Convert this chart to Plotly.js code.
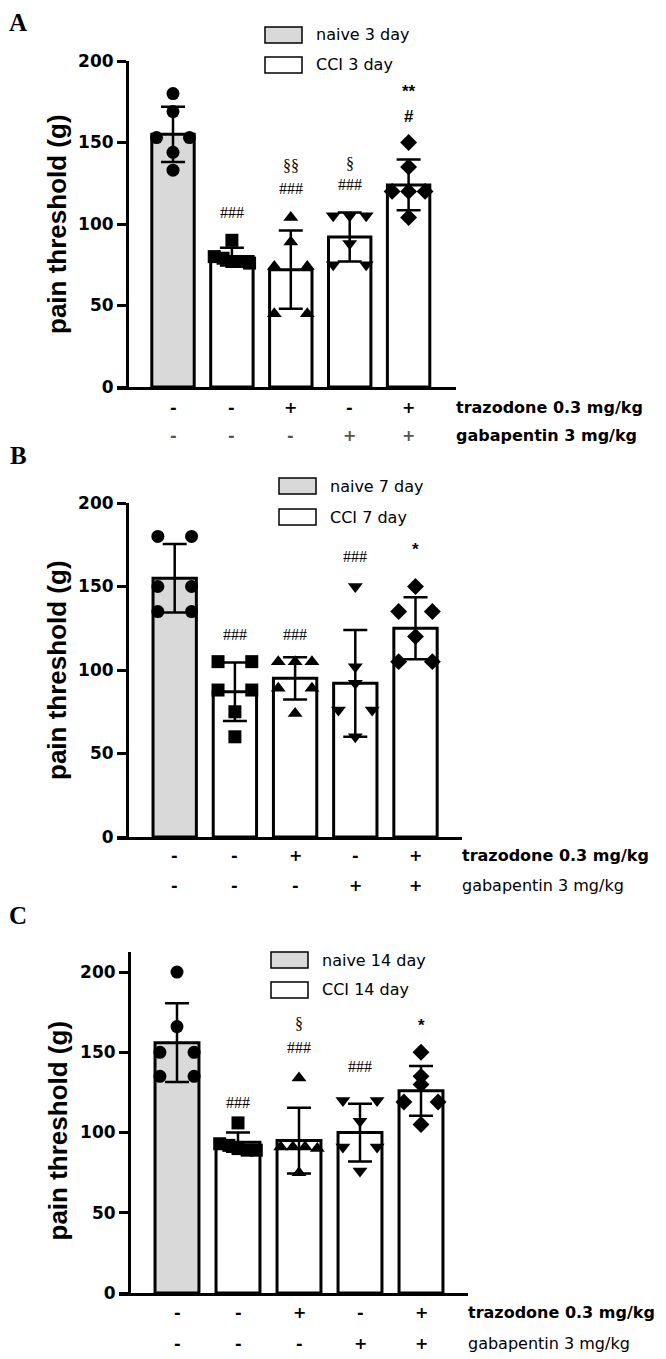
<!DOCTYPE html>
<html><head><meta charset="utf-8">
<script src="https://cdn.plot.ly/plotly-3.0.1.min.js"></script>
<style>html,body{margin:0;padding:0;background:#fff}#chart{width:666px;height:1359px}</style>
</head><body><div id="chart"></div>
<script>
// ---------------- data ----------------
const groups = ['naive', 'CCI', 'CCI + trazodone', 'CCI + gabapentin', 'CCI + trazodone + gabapentin'];
const trazodoneRow = ['-', '-', '+', '-', '+'];
const gabapentinRow = ['-', '-', '-', '+', '+'];
const rowLabels = ['trazodone 0.3 mg/kg', 'gabapentin 3 mg/kg'];
const yTicks = [0, 50, 100, 150, 200];
const panelLetters = ['A', 'B', 'C'];
const yTitle = 'pain threshold (g)';

const legendA = ['naive 3 day', 'CCI 3 day'];
const legendB = ['naive 7 day', 'CCI 7 day'];
const legendC = ['naive 14 day', 'CCI 14 day'];

const meansA = [155, 80, 72, 92, 124];
const sdA = [17, 5.5, 24, 15, 15.5];
const pointsA = [
  [180, 169, 153, 153, 144, 133],
  [90, 80, 79, 77, 77, 76],
  [104, 89, 74, 74, 45, 45],
  [105, 105, 105, 88, 75, 75],
  [150, 135, 120, 120, 120, 104]
];
const sigTextA = ['###', '###', '§§', '###', '§', '#', '**'];
const sigBarA = [1, 2, 2, 3, 3, 4, 4];
const sigYA = [107, 122, 136, 124, 137, 166, 181];

const meansB = [155, 87, 95, 92, 125];
const sdB = [20.5, 17.5, 12.6, 32, 18.5];
const pointsB = [
  [180, 180, 150, 150, 135, 135],
  [105, 105, 88, 88, 75, 60],
  [105, 105, 105, 89, 89, 74],
  [150, 102, 92, 76, 76, 60],
  [150, 135, 135, 120, 105, 105]
];
const sigTextB = ['###', '###', '###', '*'];
const sigBarB = [1, 2, 3, 4];
const sigYB = [121, 121, 168, 172];

const meansC = [156, 94, 95, 100, 126];
const sdC = [24.5, 6, 20.5, 18, 15.5];
const pointsC = [
  [200, 166, 150, 150, 135, 135],
  [106, 93, 92, 90, 89, 89],
  [134, 91, 91, 91, 90, 75],
  [120, 120, 107, 91, 91, 76],
  [150, 135, 130, 119, 119, 105]
];
const sigTextC = ['###', '###', '§', '###', '*'];
const sigBarC = [1, 2, 2, 3, 4];
const sigYC = [119, 153, 168, 141, 167];

// ---------------- layout geometry (pixels) ----------------
const W = 666, H = 1359;
const px = v => v / W;
const py = v => 1 - v / H;
const SANS = 'DejaVu Sans, Liberation Sans, Arial, sans-serif';
const SANS2 = 'Liberation Sans, Arial, sans-serif';
const SERIF = 'Liberation Serif, Times New Roman, serif';

const panels = [
  {means: meansA, sd: sdA, pts: pointsA, sigT: sigTextA, sigB: sigBarA, sigY: sigYA, legend: legendA,
   xL: 117, xR: 456, yAxisX: 127, c0: 173, sp: 58.9, yTop: 61, yBot: 387, yMax: 200,
   row1: 407, row2: 435, legBox: 265, legText: 314, leg1: 35, leg2: 65, letterY: 22, row2Color: '#555'},
  {means: meansB, sd: sdB, pts: pointsB, sigT: sigTextB, sigB: sigBarB, sigY: sigYB, legend: legendB,
   xL: 117, xR: 462, yAxisX: 127, c0: 174.7, sp: 60.2, yTop: 503, yBot: 837, yMax: 200,
   row1: 855, row2: 885, legBox: 279, legText: 328, leg1: 486, leg2: 517, letterY: 455, row2Color: '#000'},
  {means: meansC, sd: sdC, pts: pointsC, sigT: sigTextC, sigB: sigBarC, sigY: sigYC, legend: legendC,
   xL: 119, xR: 468, yAxisX: 129, c0: 177, sp: 61, yTop: 952, yBot: 1293, yMax: 212.5,
   row1: 1312, row2: 1343, legBox: 271, legText: 320, leg1: 960, leg2: 990, letterY: 915, row2Color: '#000'}
];

const symbols = ['circle', 'square', 'triangle-up', 'triangle-down', 'diamond'];
const fills = ['#d9d9d9', '#ffffff', '#ffffff', '#ffffff', '#ffffff'];

// spread points of similar value horizontally (scatter-dot style)
function spread(values) {
  const sorted = values.slice().sort((a, b) => b - a);
  const out = [];
  let i = 0;
  while (i < sorted.length) {
    let j = i;
    while (j + 1 < sorted.length && sorted[i] - sorted[j + 1] <= 4.5) j++;
    const n = j - i + 1;
    let offs;
    if (n === 1) offs = [0];
    else if (n === 2) offs = [-0.28, 0.28];
    else if (n === 3) offs = [-0.28, 0, 0.28];
    else offs = Array.from({length: n}, (_, k) => -0.3 + 0.6 * k / (n - 1));
    for (let k = 0; k < n; k++) out.push({y: sorted[i + k], dx: offs[k]});
    i = j + 1;
  }
  return out;
}

const data = [];
const layout = {
  width: W, height: H, margin: {l: 0, r: 0, t: 0, b: 0},
  paper_bgcolor: '#fff', plot_bgcolor: 'rgba(0,0,0,0)',
  showlegend: false, annotations: [], shapes: [], bargap: 0
};

panels.forEach((p, k) => {
  const s = k === 0 ? '' : String(k + 1);
  const xa = 'x' + s, ya = 'y' + s;
  const xIdx = groups.map((_, i) => i);
  const rLeft = (p.xL - p.c0) / p.sp;
  const rRight = (p.xR - p.c0) / p.sp;

  data.push({
    type: 'bar', x: xIdx, y: p.means, xaxis: xa, yaxis: ya, width: 0.72,
    marker: {color: fills, line: {color: '#000', width: 3}},
    error_y: {type: 'data', array: p.sd, visible: true, color: '#000', thickness: 2.5, width: 12},
    hoverinfo: 'skip'
  });

  p.pts.forEach((vals, i) => {
    const sp = spread(vals);
    data.push({
      type: 'scatter', mode: 'markers', xaxis: xa, yaxis: ya, cliponaxis: false,
      x: sp.map(o => i + o.dx), y: sp.map(o => o.y),
      marker: {symbol: symbols[i], size: 13, color: '#000', line: {width: 0}},
      hoverinfo: 'skip'
    });
  });

  layout['xaxis' + s] = {
    domain: [px(p.xL), px(p.xR)], range: [rLeft, rRight], anchor: ya,
    showgrid: false, zeroline: false, showline: true, linewidth: 3, linecolor: '#000',
    ticks: '', showticklabels: false, fixedrange: true
  };
  layout['yaxis' + s] = {
    domain: [py(p.yBot), py(p.yTop)], range: [0, p.yMax], anchor: 'free', position: px(p.yAxisX),
    showgrid: false, zeroline: false, showline: true, linewidth: 3, linecolor: '#000',
    ticks: 'outside', ticklen: 9, tickwidth: 3, tickcolor: '#000', tickvals: yTicks,
    tickfont: {family: SANS, size: 17, color: '#000', weight: 'bold'}, fixedrange: true
  };

  // y title
  layout.annotations.push({
    xref: 'paper', yref: 'paper', x: px(57), y: py((p.yTop + p.yBot) / 2 + (k === 2 ? 8 : 0)),
    text: yTitle, textangle: -90, showarrow: false, xanchor: 'center', yanchor: 'middle',
    font: {family: SANS2, size: 26, color: '#000', weight: 'bold'}
  });
  // panel letter
  layout.annotations.push({
    xref: 'paper', yref: 'paper', x: px(18), y: py(p.letterY), text: panelLetters[k],
    showarrow: false, xanchor: 'center', yanchor: 'middle',
    font: {family: SERIF, size: 25, color: '#000', weight: 'bold'}
  });
  // +/- rows
  groups.forEach((g, i) => {
    layout.annotations.push({
      xref: xa, yref: 'paper', x: i, y: py(p.row1), text: trazodoneRow[i], showarrow: false,
      xanchor: 'center', yanchor: 'middle', font: {family: SANS, size: 16, color: '#000', weight: 'bold'}
    });
    layout.annotations.push({
      xref: xa, yref: 'paper', x: i, y: py(p.row2), text: gabapentinRow[i], showarrow: false,
      xanchor: 'center', yanchor: 'middle', font: {family: SANS, size: 16, color: p.row2Color, weight: 'bold'}
    });
  });
  layout.annotations.push({
    xref: 'paper', yref: 'paper', x: px(p.xR - 2), y: py(p.row1), text: rowLabels[0], showarrow: false,
    xanchor: 'left', yanchor: 'middle', font: {family: SANS, size: 16, color: '#000', weight: 'bold'}
  });
  layout.annotations.push({
    xref: 'paper', yref: 'paper', x: px(p.xR - 2), y: py(p.row2), text: rowLabels[1], showarrow: false,
    xanchor: 'left', yanchor: 'middle', font: {family: SANS, size: 16, color: '#000', weight: k === 0 ? 'bold' : 'normal'}
  });
  // significance marks
  p.sigT.forEach((t, j) => {
    const serif = t.indexOf('§') >= 0 || t === '###';
    layout.annotations.push({
      xref: xa, yref: ya, x: p.sigB[j], y: p.sigY[j], text: t, showarrow: false,
      xanchor: 'center', yanchor: 'middle',
      font: serif ? {family: SERIF, size: 16, color: '#000'} : {family: SANS2, size: 17, color: '#000', weight: 'bold'}
    });
  });
  // legend
  p.legend.forEach((lab, j) => {
    const cy = j === 0 ? p.leg1 : p.leg2;
    layout.shapes.push({
      type: 'rect', xref: 'paper', yref: 'paper',
      x0: px(p.legBox), x1: px(p.legBox + 37), y0: py(cy + 8), y1: py(cy - 8),
      fillcolor: j === 0 ? '#d9d9d9' : '#ffffff', line: {color: '#000', width: 1.5}
    });
    layout.annotations.push({
      xref: 'paper', yref: 'paper', x: px(p.legText), y: py(cy), text: lab, showarrow: false,
      xanchor: 'left', yanchor: 'middle', font: {family: SANS, size: 16, color: '#000'}
    });
  });
});

Plotly.newPlot('chart', data, layout, {displayModeBar: false, staticPlot: true});
</script>
</body></html>
